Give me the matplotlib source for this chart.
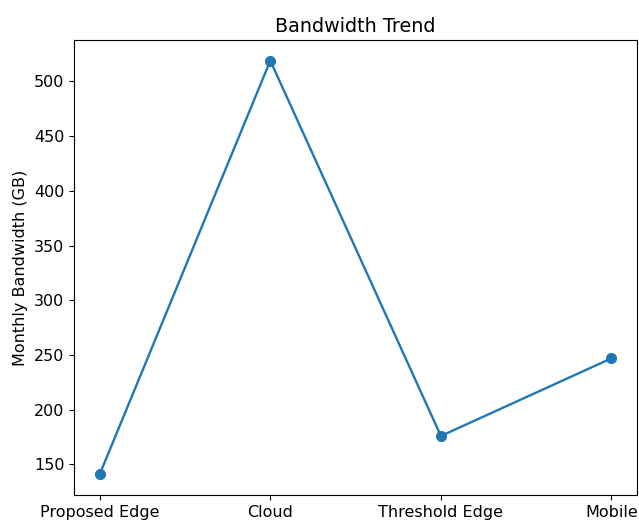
import matplotlib
matplotlib.use('Agg')
import matplotlib.pyplot as plt

# 데이터
methods = ['Proposed Edge', 'Cloud', 'Threshold Edge', 'Mobile']
bandwidth = [141, 519, 176, 247]

plt.rcParams['font.size'] = 11.5

fig = plt.figure(figsize=(6.39, 5.26), dpi=100)
ax = fig.add_axes([0.116, 0.059, 0.881, 0.865])

ax.plot(methods, bandwidth, marker='o', color='#1f77b4', linewidth=1.7, markersize=7)
ax.set_title('Bandwidth Trend', fontsize=13.8)
ax.set_ylabel('Monthly Bandwidth (GB)')
ax.set_yticks([150, 200, 250, 300, 350, 400, 450, 500])

fig.savefig('out.png', dpi=100)
